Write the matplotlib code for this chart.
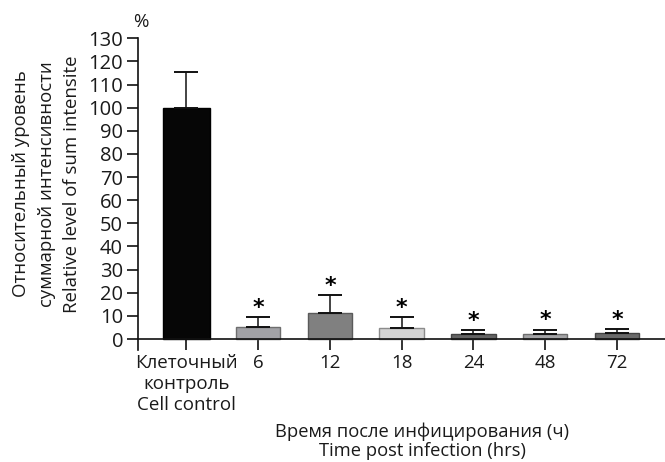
"""Relative level of summed intensity after infection: bar chart with upper error bars."""

import matplotlib

matplotlib.use("Agg")
import matplotlib.pyplot as plt
import numpy as np

# data
categories = ["Клеточный\nконтроль\nCell control", "6", "12", "18", "24", "48", "72"]
means = [100.0, 5.4, 11.2, 4.6, 2.1, 2.1, 2.6]
upper_err = [15.6, 3.9, 7.9, 4.7, 1.6, 2.0, 1.7]
significant = [False, True, True, True, True, True, True]
y_ticks = list(range(0, 131, 10))
ylabel_lines = ["Относительный уровень", "суммарной интенсивности",
                "Relative level of sum intensite"]
xlabel_lines = ["Время после инфицирования (ч)", "Time post infection (hrs)"]

bar_colors = ["#060606", "#a2a2a6", "#808080", "#d4d4d4", "#646464", "#a4a4a6", "#6a6a6a"]
edge_colors = ["#000000", "#6e6e6e", "#5a5a5a", "#8c8c8c", "#444444", "#6e6e6e", "#444444"]
bar_widths = [0.66, 0.62, 0.62, 0.62, 0.62, 0.62, 0.62]

plt.rcParams["font.family"] = ["Open Sans", "DejaVu Sans"]
TEXT = "#1a1a1a"

W, H = 665, 462
fig = plt.figure(figsize=(W / 100, H / 100), dpi=100)

ax_left, ax_right = 138.3, 665.0
ax_top, ax_bottom = 38.3, 350.0
ax = fig.add_axes([
    ax_left / W,
    1 - ax_bottom / H,
    (ax_right - ax_left) / W,
    (ax_bottom - ax_top) / H,
])

x = np.arange(len(categories))
ax.bar(x, means, width=bar_widths, color=bar_colors, edgecolor=edge_colors,
       linewidth=1.0, zorder=2)
ax.errorbar(x, means, yerr=[np.zeros(len(means)), upper_err], fmt="none",
            ecolor="#111111", elinewidth=1.1, capsize=8.6, capthick=1.4, zorder=3)

for xi, m, e, sig in zip(x, means, upper_err, significant):
    if sig:
        ax.annotate("*", (xi, m + e), xytext=(0, -0.5), textcoords="offset points",
                    ha="center", va="bottom", fontsize=16, fontweight="bold",
                    family="DejaVu Sans", color="#000000")

ax.set_xlim(-0.67, 6.67)
ax.set_ylim(-4.75, 130)
ax.set_yticks(y_ticks)
ax.set_xticks(x)
ax.set_xticklabels(categories, linespacing=1.33)

for side in ("top", "right"):
    ax.spines[side].set_visible(False)
ax.spines["bottom"].set_position(("data", 0))
for side in ("left", "bottom"):
    ax.spines[side].set_linewidth(1.2)
    ax.spines[side].set_color("#111111")

ax.tick_params(axis="both", direction="out", length=8, width=1.2, color="#111111",
               labelcolor=TEXT)
ax.tick_params(axis="x", pad=3, labelsize=13.5)
ax.tick_params(axis="y", pad=3, labelsize=14.5)

fig.text(141 / W, 1 - 22 / H, "%", ha="center", va="center", fontsize=13.5, color=TEXT)

# y label: three rotated lines
for text, xc in zip(ylabel_lines, (21, 47, 72)):
    fig.text(xc / W, 1 - 184 / H, text, rotation=90, ha="center", va="center",
             fontsize=13.4, color=TEXT)

for text, yc in zip(xlabel_lines, (432, 451)):
    fig.text(422 / W, 1 - yc / H, text, ha="center", va="center",
             fontsize=13.2, color=TEXT)

fig.savefig("out.png", dpi=100)
